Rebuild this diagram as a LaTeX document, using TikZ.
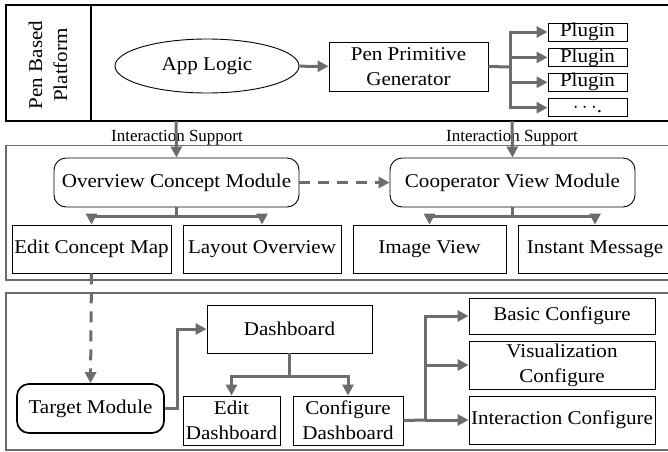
\documentclass[tikz,border=0pt]{standalone}
\usepackage{fontspec}
\setmainfont{Liberation Serif}[FakeStretch=1.08]
\newfontfamily\labelfont{Liberation Serif}
\usetikzlibrary{arrows.meta, shapes.geometric, positioning}
\definecolor{linegray}{RGB}{108,108,108}

\begin{document}
\begin{tikzpicture}[x=1pt,y=-1pt,>={Triangle[length=11pt,width=11pt]},
  font=\fontsize{19.5}{25}\selectfont,
  box/.style={draw, rectangle, line width=0.9pt, inner sep=0pt, align=center},
  rbox/.style={box, rounded corners=12pt},
  panel/.style={draw=#1, line width=1.2pt},
  conn/.style={draw=linegray, line width=3pt},
  dconn/.style={conn, dash pattern=on 11pt off 8pt}]
\useasboundingbox (0,0) rectangle (668,451);
\clip (0,0) rectangle (668,451);

% define the panels
  \draw[panel=black] (6,5) rectangle (672,121);
  \draw[panel=black] (91,5) -- (91,121);
  \draw[panel=linegray] (6,145.5) rectangle (672,280);
  \draw[panel=linegray] (6,293) rectangle (672,450);
  \node[rotate=90, align=center] (platform) at (48,65) {Pen Based\\Platform};

% define the platform nodes
  \node[draw, ellipse, line width=0.9pt, minimum width=184pt, minimum height=54pt] (applogic)
at (207,66) {App Logic};
  \node[box, minimum width=159pt, minimum height=49pt] (ppg) at (408.5,66.5)
{Pen Primitive\\Generator};
  \node[box, minimum width=79pt, minimum height=18pt] (plugin1) at (587.5,32)
{Plugin};
  \node[box, minimum width=79pt, minimum height=18pt] (plugin2) [below=6.5pt of plugin1]
{Plugin};
  \node[box, minimum width=79pt, minimum height=18pt] (plugin3) [below=6pt of plugin2]
{Plugin};
  \node[box, minimum width=79pt, minimum height=18pt] (plugin4) [below=6.5pt of plugin3]
{$\cdots$.};

% define the module nodes
  \node[rbox, minimum width=245pt, minimum height=49pt] (overview) at (176.5,182.5)
{Overview Concept Module};
  \node[rbox, minimum width=245pt, minimum height=49pt] (coop) at (512.5,182.5)
{Cooperator View Module};
  \node[box, minimum width=159pt, minimum height=48pt] (editmap) at (91.5,249)
{Edit Concept Map};
  \node[box, minimum width=158pt, minimum height=48pt] (layout) at (262,249)
{Layout Overview};
  \node[box, minimum width=153pt, minimum height=48pt] (imgview) at (429.5,249)
{Image View};
  \node[box, minimum width=154pt, minimum height=48pt] (instmsg) at (595,249)
{Instant Message};

% define the dashboard nodes
  \node[rbox, line width=1.7pt, minimum width=147pt, minimum height=49pt] (target) at (90.5,408.5)
{Target Module};
  \node[box, minimum width=165pt, minimum height=48pt] (dashboard) at (289.5,329)
{Dashboard};
  \node[box, minimum width=97pt, minimum height=49pt] (editdash) at (231.5,420.5)
{Edit\\Dashboard};
  \node[box, minimum width=110pt, minimum height=49pt] (confdash) at (348,420.5)
{Configure\\Dashboard};
  \node[box, minimum width=186pt, minimum height=36pt] (basic) at (562,316)
{Basic Configure};
  \node[box, minimum width=186pt, minimum height=48pt] (visconf) at (562,365)
{Visualization\\Configure};
  \node[box, minimum width=186pt, minimum height=48pt] (interconf) at (562,420)
{Interaction Configure};

% define the labels
  \node[font=\labelfont\fontsize{17}{20}\selectfont] (support1) at (177,138) {Interaction Support};
  \node[font=\labelfont\fontsize{17}{20}\selectfont] (support2) at (512,138) {Interaction Support};
  \coordinate (s1) at (176,121);
  \coordinate (s2) at (512,121);
  \coordinate (pbr) at (510,67);
  \coordinate (tbr) at (425,420);

% define the links
  \draw[conn,->] (applogic) -- (ppg);
  \draw[conn] (ppg.east) -- (pbr);
  \foreach \p in {plugin1,plugin2,plugin3,plugin4}
    \draw[conn,->] (pbr) |- (\p.west);
  \draw[conn,->] (s1) -- (overview.north);
  \draw[conn,->] (s2) -- (coop.north);
  \draw[dconn,->] (overview) -- (coop);
  \draw[conn,->] (overview.south) -- ++(0,9) -| (editmap.north);
  \draw[conn,->] (overview.south) -- ++(0,9) -| (layout.north);
  \draw[conn,->] (coop.south) -- ++(0,9) -| (imgview.north);
  \draw[conn,->] (coop.south) -- ++(0,9) -| (instmsg.north);
  \draw[dconn,->] (editmap.south) -- (target.north);
  \draw[conn,->] (target.east) -- ++(13,0) |- (dashboard.west);
  \draw[conn,->] (dashboard.south) -- ++(0,23) -| (editdash.north);
  \draw[conn,->] (dashboard.south) -- ++(0,23) -| (confdash.north);
  \draw[conn] (confdash.east) -- (tbr);
  \foreach \c in {basic,visconf,interconf}
    \draw[conn,->] (tbr) |- (\c.west);

\end{tikzpicture}
\end{document}
